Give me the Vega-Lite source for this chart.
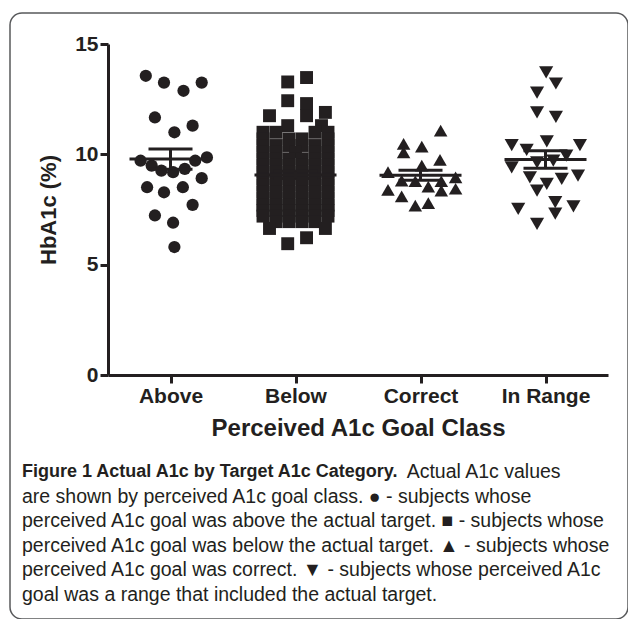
{
  "$schema": "https://vega.github.io/schema/vega-lite/v6.json",
  "autosize": {"type": "none"},
  "width": 618,
  "height": 606,
  "padding": {"left": 10, "top": 13, "right": 0, "bottom": 0},
  "background": "white",
  "title": {
    "text": "Figure 1 Actual A1c by Target A1c Category.",
    "subtitle": [
      "\u200b\u00a0\u00a0\u00a0\u00a0\u00a0\u00a0\u00a0\u00a0\u00a0\u00a0\u00a0\u00a0\u00a0\u00a0\u00a0\u00a0\u00a0\u00a0\u00a0\u00a0\u00a0\u00a0\u00a0\u00a0\u00a0\u00a0\u00a0\u00a0\u00a0\u00a0\u00a0\u00a0\u00a0\u00a0\u00a0\u00a0\u00a0\u00a0\u00a0\u00a0\u00a0\u00a0\u00a0\u00a0\u00a0\u00a0\u00a0\u00a0\u00a0\u00a0\u00a0\u00a0\u00a0\u00a0\u00a0\u00a0\u00a0\u00a0\u00a0\u00a0\u00a0\u00a0\u00a0\u00a0\u00a0\u00a0\u00a0\u00a0\u00a0\u00a0\u00a0Actual A1c values",
      "are shown by perceived A1c goal class. \u25cf - subjects whose",
      "perceived A1c goal was above the actual target. \u25a0 - subjects whose",
      "perceived A1c goal was below the actual target. \u25b2 - subjects whose",
      "perceived A1c goal was correct. \u25bc - subjects whose perceived A1c",
      "goal was a range that included the actual target."
    ],
    "orient": "bottom",
    "anchor": "start",
    "frame": "group",
    "dx": 12,
    "offset": -156,
    "font": "Liberation Sans",
    "fontSize": 18,
    "fontWeight": "bold",
    "color": "#231f20",
    "subtitleFont": "Liberation Sans",
    "subtitleFontSize": 19.5,
    "subtitleFontWeight": "normal",
    "subtitleColor": "#231f20",
    "subtitleLineHeight": 24.5,
    "subtitlePadding": -18,
    "baseline": "top"
  },
  "data": {
    "values": [
      {"g": "Above", "v": 13.56, "j": -1.9},
      {"g": "Above", "v": 13.25, "j": -0.5},
      {"g": "Above", "v": 12.88, "j": 1.0},
      {"g": "Above", "v": 13.25, "j": 2.4},
      {"g": "Above", "v": 11.67, "j": -1.2},
      {"g": "Above", "v": 11.0, "j": 0.3},
      {"g": "Above", "v": 11.3, "j": 1.7},
      {"g": "Above", "v": 9.71, "j": -2.3},
      {"g": "Above", "v": 9.49, "j": -1.45},
      {"g": "Above", "v": 9.26, "j": -0.7},
      {"g": "Above", "v": 9.19, "j": 0.2},
      {"g": "Above", "v": 9.34, "j": 1.1},
      {"g": "Above", "v": 9.71, "j": 1.9},
      {"g": "Above", "v": 9.86, "j": 2.8},
      {"g": "Above", "v": 8.51, "j": -1.8},
      {"g": "Above", "v": 8.28, "j": -0.5},
      {"g": "Above", "v": 8.51, "j": 0.95},
      {"g": "Above", "v": 8.92, "j": 2.4},
      {"g": "Above", "v": 7.71, "j": 1.7},
      {"g": "Above", "v": 7.23, "j": -1.2},
      {"g": "Above", "v": 6.9, "j": 0.2},
      {"g": "Above", "v": 5.8, "j": 0.3},

      {"g": "Below", "v": 13.48, "j": 0.85},
      {"g": "Below", "v": 13.28, "j": -0.6},
      {"g": "Below", "v": 12.43, "j": -0.6},
      {"g": "Below", "v": 12.3, "j": 0.85},
      {"g": "Below", "v": 11.9, "j": 2.3},
      {"g": "Below", "v": 11.75, "j": -2.0},
      {"g": "Below", "v": 11.75, "j": 0.85},
      {"g": "Below", "v": 11.3, "j": -0.6},
      {"g": "Below", "v": 11.3, "j": 2.0},
      {"g": "Below", "v": 11.0, "j": -2.5},
      {"g": "Below", "v": 11.0, "j": -1.5},
      {"g": "Below", "v": 11.0, "j": 1.5},
      {"g": "Below", "v": 11.0, "j": 2.5},
      {"g": "Below", "v": 10.7, "j": -2.5},
      {"g": "Below", "v": 10.7, "j": -0.5},
      {"g": "Below", "v": 10.7, "j": 0.5},
      {"g": "Below", "v": 10.7, "j": 2.5},
      {"g": "Below", "v": 10.4, "j": -2.5},
      {"g": "Below", "v": 10.4, "j": -1.5},
      {"g": "Below", "v": 10.4, "j": -0.5},
      {"g": "Below", "v": 10.4, "j": 0.5},
      {"g": "Below", "v": 10.4, "j": 1.5},
      {"g": "Below", "v": 10.4, "j": 2.5},
      {"g": "Below", "v": 10.1, "j": -2.5},
      {"g": "Below", "v": 10.1, "j": -1.5},
      {"g": "Below", "v": 10.1, "j": 0},
      {"g": "Below", "v": 10.1, "j": 1.5},
      {"g": "Below", "v": 10.1, "j": 2.5},
      {"g": "Below", "v": 9.8, "j": -2.5},
      {"g": "Below", "v": 9.8, "j": -1.5},
      {"g": "Below", "v": 9.8, "j": -0.5},
      {"g": "Below", "v": 9.8, "j": 0.5},
      {"g": "Below", "v": 9.8, "j": 1.5},
      {"g": "Below", "v": 9.8, "j": 2.5},
      {"g": "Below", "v": 9.5, "j": -2.5},
      {"g": "Below", "v": 9.5, "j": -1.5},
      {"g": "Below", "v": 9.5, "j": -0.5},
      {"g": "Below", "v": 9.5, "j": 0.5},
      {"g": "Below", "v": 9.5, "j": 1.5},
      {"g": "Below", "v": 9.5, "j": 2.5},
      {"g": "Below", "v": 9.2, "j": -2.5},
      {"g": "Below", "v": 9.2, "j": -1.5},
      {"g": "Below", "v": 9.2, "j": -0.5},
      {"g": "Below", "v": 9.2, "j": 0.5},
      {"g": "Below", "v": 9.2, "j": 1.5},
      {"g": "Below", "v": 9.2, "j": 2.5},
      {"g": "Below", "v": 8.9, "j": -2.5},
      {"g": "Below", "v": 8.9, "j": -1.5},
      {"g": "Below", "v": 8.9, "j": -0.5},
      {"g": "Below", "v": 8.9, "j": 0.5},
      {"g": "Below", "v": 8.9, "j": 1.5},
      {"g": "Below", "v": 8.9, "j": 2.5},
      {"g": "Below", "v": 8.6, "j": -2.5},
      {"g": "Below", "v": 8.6, "j": -1.5},
      {"g": "Below", "v": 8.6, "j": -0.5},
      {"g": "Below", "v": 8.6, "j": 0.5},
      {"g": "Below", "v": 8.6, "j": 1.5},
      {"g": "Below", "v": 8.6, "j": 2.5},
      {"g": "Below", "v": 8.3, "j": -2.5},
      {"g": "Below", "v": 8.3, "j": -1.5},
      {"g": "Below", "v": 8.3, "j": -0.5},
      {"g": "Below", "v": 8.3, "j": 0.5},
      {"g": "Below", "v": 8.3, "j": 1.5},
      {"g": "Below", "v": 8.3, "j": 2.5},
      {"g": "Below", "v": 8.0, "j": -2.5},
      {"g": "Below", "v": 8.0, "j": -1.5},
      {"g": "Below", "v": 8.0, "j": -0.5},
      {"g": "Below", "v": 8.0, "j": 0.5},
      {"g": "Below", "v": 8.0, "j": 1.5},
      {"g": "Below", "v": 8.0, "j": 2.5},
      {"g": "Below", "v": 7.7, "j": -2.5},
      {"g": "Below", "v": 7.7, "j": -1.5},
      {"g": "Below", "v": 7.7, "j": -0.5},
      {"g": "Below", "v": 7.7, "j": 0.5},
      {"g": "Below", "v": 7.7, "j": 1.5},
      {"g": "Below", "v": 7.7, "j": 2.5},
      {"g": "Below", "v": 7.45, "j": -2.5},
      {"g": "Below", "v": 7.45, "j": -1.5},
      {"g": "Below", "v": 7.45, "j": -0.5},
      {"g": "Below", "v": 7.45, "j": 0.5},
      {"g": "Below", "v": 7.45, "j": 1.5},
      {"g": "Below", "v": 7.45, "j": 2.5},
      {"g": "Below", "v": 7.2, "j": -2.5},
      {"g": "Below", "v": 7.2, "j": -1.5},
      {"g": "Below", "v": 7.2, "j": -0.5},
      {"g": "Below", "v": 7.2, "j": 0.5},
      {"g": "Below", "v": 7.2, "j": 1.5},
      {"g": "Below", "v": 7.2, "j": 2.5},
      {"g": "Below", "v": 6.95, "j": -1.5},
      {"g": "Below", "v": 6.95, "j": -0.5},
      {"g": "Below", "v": 6.95, "j": 0.5},
      {"g": "Below", "v": 6.95, "j": 1.5},
      {"g": "Below", "v": 6.64, "j": -2.0},
      {"g": "Below", "v": 6.64, "j": 2.3},
      {"g": "Below", "v": 6.22, "j": 0.85},
      {"g": "Below", "v": 5.95, "j": -0.6},

      {"g": "Correct", "v": 11.07, "j": 1.55},
      {"g": "Correct", "v": 10.47, "j": -1.3},
      {"g": "Correct", "v": 10.09, "j": -1.3},
      {"g": "Correct", "v": 10.35, "j": 0.1},
      {"g": "Correct", "v": 9.75, "j": 1.5},
      {"g": "Correct", "v": 9.49, "j": 0.1},
      {"g": "Correct", "v": 9.19, "j": -2.5},
      {"g": "Correct", "v": 8.96, "j": 2.7},
      {"g": "Correct", "v": 8.81, "j": -1.45},
      {"g": "Correct", "v": 8.78, "j": -0.4},
      {"g": "Correct", "v": 8.54, "j": 0.6},
      {"g": "Correct", "v": 8.78, "j": 1.6},
      {"g": "Correct", "v": 8.36, "j": 1.6},
      {"g": "Correct", "v": 8.39, "j": -2.5},
      {"g": "Correct", "v": 8.44, "j": 2.7},
      {"g": "Correct", "v": 8.09, "j": -1.45},
      {"g": "Correct", "v": 7.68, "j": -0.4},
      {"g": "Correct", "v": 7.79, "j": 0.6},

      {"g": "In Range", "v": 13.71, "j": 0.05},
      {"g": "In Range", "v": 13.21, "j": 0.8},
      {"g": "In Range", "v": 12.8, "j": -0.65},
      {"g": "In Range", "v": 11.9, "j": -0.65},
      {"g": "In Range", "v": 11.7, "j": 0.8},
      {"g": "In Range", "v": 10.42, "j": -2.6},
      {"g": "In Range", "v": 10.2, "j": -1.45},
      {"g": "In Range", "v": 10.59, "j": 0.1},
      {"g": "In Range", "v": 10.42, "j": 2.65},
      {"g": "In Range", "v": 9.94, "j": 1.6},
      {"g": "In Range", "v": 9.41, "j": -2.6},
      {"g": "In Range", "v": 9.64, "j": -0.65},
      {"g": "In Range", "v": 9.71, "j": 0.6},
      {"g": "In Range", "v": 8.96, "j": -1.2},
      {"g": "In Range", "v": 8.66, "j": 0.1},
      {"g": "In Range", "v": 8.89, "j": 1.25},
      {"g": "In Range", "v": 9.04, "j": 2.5},
      {"g": "In Range", "v": 8.36, "j": -0.65},
      {"g": "In Range", "v": 7.53, "j": -2.1},
      {"g": "In Range", "v": 7.83, "j": 0.75},
      {"g": "In Range", "v": 7.31, "j": 0.75},
      {"g": "In Range", "v": 7.64, "j": 2.15},
      {"g": "In Range", "v": 6.85, "j": -0.65}
    ]
  },
  "encoding": {
    "x": {
      "field": "g",
      "type": "nominal",
      "sort": ["Above", "Below", "Correct", "In Range"],
      "scale": {"type": "point", "padding": 0.5, "range": [98, 598]},
      "axis": {
        "title": "Perceived A1c Goal Class",
        "labelAngle": 0,
        "labelPadding": 2,
        "titlePadding": 10,
        "titleFontSize": 24,
        "offset": -244
      }
    }
  },
  "layer": [
    {
      "mark": {"type": "point", "filled": true, "color": "#231f20", "opacity": 1, "strokeWidth": 0},
      "encoding": {
        "y": {
          "field": "v",
          "type": "quantitative",
          "title": "HbA1c (%)",
          "scale": {"domain": [0, 15], "nice": false, "range": [362, 31]},
          "axis": {"title": "HbA1c (%)", "values": [0, 5, 10, 15], "labelPadding": 2, "titlePadding": 14, "titleFontSize": 22, "offset": -98}
        },
        "xOffset": {"field": "j", "type": "quantitative", "scale": {"domain": [-3, 3], "range": [-39, 39]}},
        "shape": {
          "field": "g",
          "type": "nominal",
          "scale": {"domain": ["Above", "Below", "Correct", "In Range"], "range": ["circle", "square", "triangle-up", "triangle-down"]},
          "legend": null
        },
        "size": {
          "field": "g",
          "type": "nominal",
          "scale": {"domain": ["Above", "Below", "Correct", "In Range"], "range": [150, 200, 165, 165]},
          "legend": null
        }
      }
    },
    {
      "mark": {"type": "tick", "color": "#231f20", "opacity": 1, "size": 82, "thickness": 3},
      "encoding": {
        "y": {"aggregate": "mean", "field": "v", "type": "quantitative", "title": "HbA1c (%)"}
      }
    },
    {
      "mark": {
        "type": "errorbar",
        "extent": "stderr",
        "color": "#231f20",
        "opacity": 1,
        "thickness": 3,
        "rule": {"opacity": 1, "color": "#231f20"},
        "ticks": {"size": 44, "thickness": 3, "color": "#231f20", "opacity": 1}
      },
      "encoding": {
        "y": {"field": "v", "type": "quantitative", "title": "HbA1c (%)"}
      }
    }
  ],
  "config": {
    "view": {"stroke": "#58595b", "strokeWidth": 1.5, "cornerRadius": 12},
    "tick": {"opacity": 1},
    "axis": {
      "grid": false,
      "domainColor": "#231f20",
      "domainWidth": 3,
      "tickColor": "#231f20",
      "tickWidth": 3,
      "tickSize": 8,
      "labelFont": "Liberation Sans",
      "labelFontWeight": "bold",
      "labelFontSize": 21,
      "labelColor": "#231f20",
      "titleFont": "Liberation Sans",
      "titleFontWeight": "bold",
      "titleColor": "#231f20"
    }
  }
}
